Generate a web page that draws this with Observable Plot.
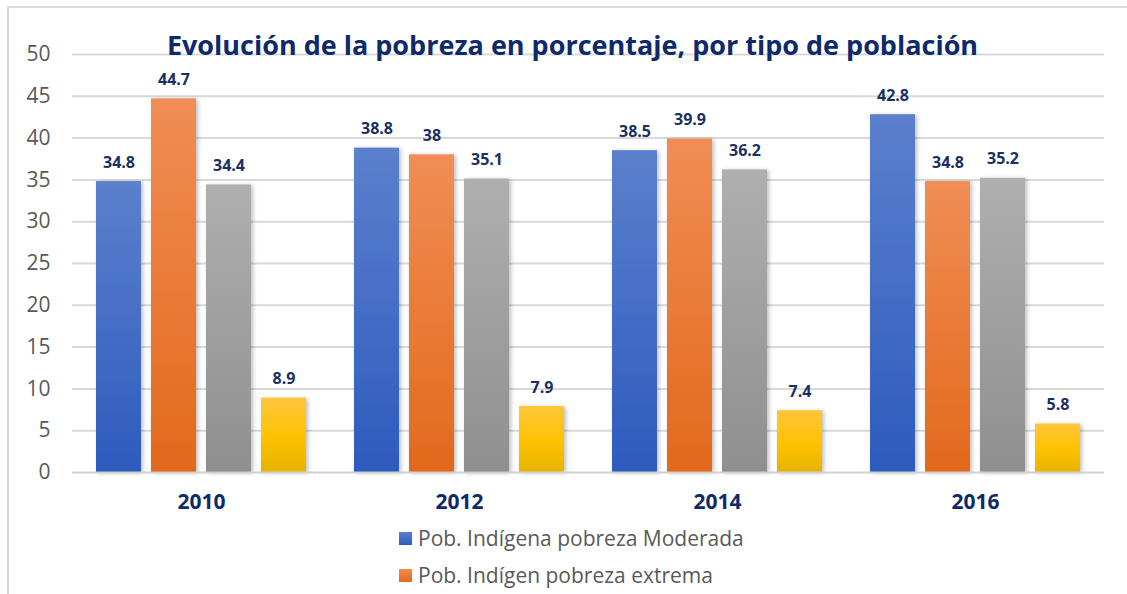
<!DOCTYPE html>
<html>
<head>
<meta charset="utf-8">
<script src="https://cdn.jsdelivr.net/npm/d3@7"></script>
<script src="https://cdn.jsdelivr.net/npm/@observablehq/plot@0.6"></script>
<style>
  html, body { margin: 0; padding: 0; background: #fff; }
  #wrap { position: relative; width: 1127px; height: 594px; overflow: hidden; font-family: "Open Sans", sans-serif; }
  #border { position: absolute; left: 7px; top: 6px; width: 1140px; height: 620px; border: 2px solid #d9d9d9; box-sizing: border-box; }
  #title { position: absolute; left: 0; width: 1145px; top: 26px; text-align: center; font-size: 27px; font-weight: 700; color: #0e2a6b; z-index: 2; white-space: nowrap; }
  #chart { position: absolute; left: 0; top: 0; }
  .leg { position: absolute; left: 399px; font-size: 21px; color: #595959; display: flex; align-items: center; white-space: nowrap; }
  .leg span.sw { display: inline-block; width: 13px; height: 13px; margin-right: 6px; }
</style>
</head>
<body>
<div id="wrap">
  <div id="border"></div>
  <div id="chart"></div>
  <div id="title">Evolución de la pobreza en porcentaje, por tipo de población</div>
  <div class="leg" style="top:524px"><span class="sw" style="background:linear-gradient(#5a7fce,#2e5cbf)"></span>Pob. Indígena pobreza Moderada</div>
  <div class="leg" style="top:561px"><span class="sw" style="background:linear-gradient(#f28c50,#e26b1c)"></span>Pob. Indígen pobreza extrema</div>
</div>
<script>
const years = ["2010", "2012", "2014", "2016"];
const series = ["Pob. Indígena pobreza Moderada", "Pob. Indígen pobreza extrema", "Pob. no indígena pobreza moderada", "Pob. no indígena pobreza extrema"];
const moderada = [34.8, 38.8, 38.5, 42.8];
const extrema = [44.7, 38, 39.9, 34.8];
const noIndModerada = [34.4, 35.1, 36.2, 35.2];
const noIndExtrema = [8.9, 7.9, 7.4, 5.8];
const yTicks = [0, 5, 10, 15, 20, 25, 30, 35, 40, 45, 50];

const valuesBySeries = [moderada, extrema, noIndModerada, noIndExtrema];
const data = [];
years.forEach((yr, i) => {
  series.forEach((s, j) => data.push({year: yr, series: s, value: valuesBySeries[j][i]}));
});

const gradIds = ["url(#g0)", "url(#g1)", "url(#g2)", "url(#g3)"];

const svg = Plot.plot({
  width: 1127,
  height: 594,
  marginLeft: 70,
  marginRight: 22,
  marginTop: 54,
  marginBottom: 122,
  style: {fontFamily: "Open Sans, sans-serif", background: "transparent"},
  fx: {domain: years, padding: 0, label: null, axis: null},
  x: {domain: series, paddingInner: 0.179, paddingOuter: 0.4, axis: null},
  y: {domain: [0, 50], label: null},
  color: {domain: series, range: gradIds},
  marks: [
    Plot.ruleY(yTicks.filter(t => t > 0), {stroke: "#d9d9d9", strokeWidth: 2}),
    Plot.axisY(yTicks, {tickSize: 0, tickPadding: 22, fontSize: 21, fill: "#595959", label: null}),
    Plot.axisFx({anchor: "bottom", tickSize: 0, tickPadding: 22, fontSize: 21, fontWeight: "bold", fill: "#0e2a6b", label: null}),
    Plot.barY(data, {fx: "year", x: "series", y: "value", fill: "series"}),
    Plot.ruleY([0], {stroke: "#d0d0d0", strokeWidth: 2}),
    Plot.text(data, {fx: "year", x: "series", y: "value", text: d => String(d.value), dy: -19, fontSize: 16, fontWeight: "bold", fill: "#1a2f63"})
  ]
});

svg.insertAdjacentHTML("afterbegin", `
<defs>
  <linearGradient id="g0" x1="0" y1="0" x2="0" y2="1"><stop offset="0" stop-color="#5b80cc"/><stop offset="1" stop-color="#2d5bbe"/></linearGradient>
  <linearGradient id="g1" x1="0" y1="0" x2="0" y2="1"><stop offset="0" stop-color="#f18d55"/><stop offset="1" stop-color="#e2691b"/></linearGradient>
  <linearGradient id="g2" x1="0" y1="0" x2="0" y2="1"><stop offset="0" stop-color="#afafaf"/><stop offset="1" stop-color="#8f8f8f"/></linearGradient>
  <linearGradient id="g3" x1="0" y1="0" x2="0" y2="1"><stop offset="0" stop-color="#ffc53d"/><stop offset="0.5" stop-color="#ffc305"/><stop offset="1" stop-color="#e6b300"/></linearGradient>
  <filter id="sh" x="-20%" y="-10%" width="150%" height="120%"><feDropShadow dx="2" dy="1" stdDeviation="2" flood-color="#000" flood-opacity="0.25"/></filter>
</defs>`);
d3.select(svg).selectAll("g[aria-label='bar'] rect").attr("filter", "url(#sh)");

document.getElementById("chart").appendChild(svg);
</script>
</body>
</html>
